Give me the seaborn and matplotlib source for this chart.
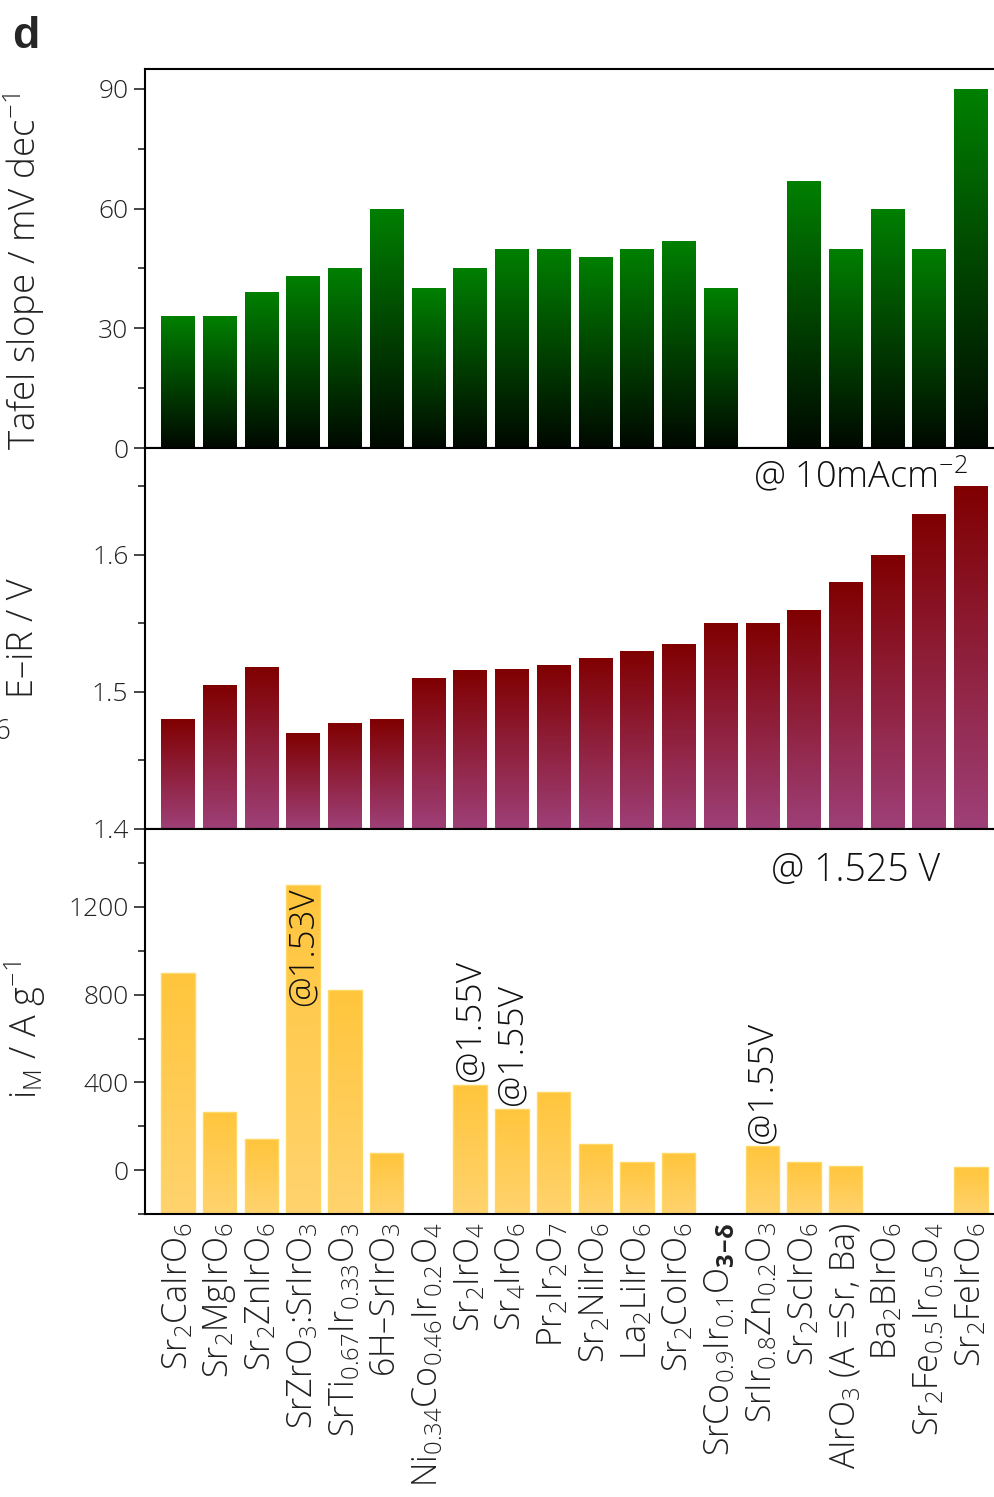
import numpy as np
import pandas as pd
import matplotlib
matplotlib.use("Agg")
import matplotlib.pyplot as plt
import seaborn as sns
from matplotlib.colors import LinearSegmentedColormap
from matplotlib.ticker import MultipleLocator

sns.set_theme(style="ticks")
plt.rcParams["font.family"] = ["Open Sans", "DejaVu Sans"]
plt.rcParams["font.weight"] = "light"
plt.rcParams["axes.labelweight"] = "light"
plt.rcParams["mathtext.fontset"] = "custom"
plt.rcParams["mathtext.rm"] = "Open Sans:light"
plt.rcParams["mathtext.it"] = "Open Sans:italic:light"
plt.rcParams["mathtext.bf"] = "Open Sans:bold"

# catalysts (shared x axis)
catalysts = [
    r"Sr$_2$CaIrO$_6$", r"Sr$_2$MgIrO$_6$", r"Sr$_2$ZnIrO$_6$",
    r"SrZrO$_3$:SrIrO$_3$", r"SrTi$_{0.67}$Ir$_{0.33}$O$_3$", "6H–SrIrO$_3$",
    r"Ni$_{0.34}$Co$_{0.46}$Ir$_{0.2}$O$_4$", r"Sr$_2$IrO$_4$", r"Sr$_4$IrO$_6$",
    r"Pr$_2$Ir$_2$O$_7$", r"Sr$_2$NiIrO$_6$", r"La$_2$LiIrO$_6$", r"Sr$_2$CoIrO$_6$",
    r"SrCo$_{0.9}$Ir$_{0.1}$O$_{\mathbf{3\!-\!\delta}}$", r"SrIr$_{0.8}$Zn$_{0.2}$O$_3$",
    r"Sr$_2$ScIrO$_6$", r"AIrO$_3$ (A =Sr, Ba)", r"Ba$_2$BIrO$_6$",
    r"Sr$_2$Fe$_{0.5}$Ir$_{0.5}$O$_4$", r"Sr$_2$FeIrO$_6$",
]
tafel = [33, 33, 39, 43, 45, 60, 40, 45, 50, 50, 48, 50, 52, 40, np.nan,
         67, 50, 60, 50, 90]
e_ir = [1.480, 1.505, 1.518, 1.470, 1.477, 1.480, 1.510, 1.516, 1.517, 1.520,
        1.525, 1.530, 1.535, 1.550, 1.550, 1.560, 1.580, 1.600, 1.630, 1.650]
i_mass = [900, 265, 140, 1300, 820, 78, np.nan, 390, 280, 355, 120, 37, 77,
          np.nan, 110, 37, 20, np.nan, np.nan, 12]
note_153 = [3]
note_155 = [7, 8, 14]

df = pd.DataFrame({"cat": catalysts, "tafel": tafel, "eir": e_ir, "im": i_mass})

W, H = 995, 1497
fig = plt.figure(figsize=(W / 100, H / 100), dpi=100)
left, width = 145 / W, 848 / W
ax1 = fig.add_axes([left, 1 - 448 / H, width, 379 / H])
ax2 = fig.add_axes([left, 1 - 829 / H, width, 381 / H])
ax3 = fig.add_axes([left, 1 - 1214 / H, width, 385 / H])


def gradient_bars(ax, base, top_c, bot_c, edge=None):
    cmap = LinearSegmentedColormap.from_list("grad", [bot_c, top_c])
    grad = np.linspace(0, 1, 256).reshape(-1, 1)
    for p in ax.patches:
        h = p.get_height()
        if not np.isfinite(h):
            continue
        p.set_y(base)
        p.set_height(h - base)
        x, w = p.get_x(), p.get_width()
        im = ax.imshow(grad, cmap=cmap, origin="lower", aspect="auto",
                       extent=[x, x + w, base, h], zorder=0.9)
        im.set_clip_path(p)
        p.set_facecolor("none")
        if edge:
            p.set_edgecolor(edge)
            p.set_linewidth(1.0)
        else:
            p.set_linewidth(0)


sns.barplot(data=df, x="cat", y="tafel", order=catalysts, ax=ax1, width=0.8)
gradient_bars(ax1, 0, "#008000", "#000800")
sns.barplot(data=df, x="cat", y="eir", order=catalysts, ax=ax2, width=0.8)
gradient_bars(ax2, 1.4, "#800000", "#9e4078")
sns.barplot(data=df, x="cat", y="im", order=catalysts, ax=ax3, width=0.8)
gradient_bars(ax3, -200, "#ffc53c", "#ffd36e", edge="#ffd764")

tick_col = "#222222"
for ax in (ax1, ax2, ax3):
    ax.set_xlim(-0.79, 19.53)
    ax.spines["right"].set_visible(False)
    for s in ("left", "top", "bottom"):
        ax.spines[s].set_linewidth(1.5)
        ax.spines[s].set_color("black")
    ax.tick_params(axis="y", which="major", direction="out", length=8,
                   width=1.2, labelsize=19, labelcolor=tick_col, pad=4)
    ax.tick_params(axis="y", which="minor", direction="out", length=5, width=1.2)
    ax.tick_params(axis="x", length=0)
    ax.set_xlabel("")

ax1.set_ylim(0, 95)
ax1.yaxis.set_major_locator(MultipleLocator(30))
ax1.yaxis.set_minor_locator(MultipleLocator(15))
ax1.set_ylabel(r"Tafel slope / mV dec$^{-1}$", fontsize=26.5, color=tick_col)
ax1.yaxis.set_label_coords(-0.116, 0.465)

ax2.set_ylim(1.4, 1.678)
ax2.yaxis.set_major_locator(MultipleLocator(0.1))
ax2.yaxis.set_minor_locator(MultipleLocator(0.05))
ax2.set_ylabel("E–iR / V", fontsize=26, color=tick_col)
ax2.yaxis.set_label_coords(-0.122, 0.5)

ax3.set_ylim(-200, 1555)
ax3.yaxis.set_major_locator(MultipleLocator(400))
ax3.yaxis.set_minor_locator(MultipleLocator(200))
ax3.set_ylabel(r"i$_{\mathrm{M}}$ / A g$^{-1}$", fontsize=26, color=tick_col)
ax3.yaxis.set_label_coords(-0.114, 0.478)

ax1.set_xticklabels([])
ax2.set_xticklabels([])
ax3.set_xticks(range(len(catalysts)))
ax3.set_xticklabels(catalysts, rotation=90, fontsize=24.5, color=tick_col,
                    va="top", ha="center")
ax3.tick_params(axis="x", pad=6)

ax2.text(0.97, 0.924, r"@ 10mAcm$^{-2}$", transform=ax2.transAxes,
         ha="right", va="center", fontsize=26, color="#111111")
ax3.text(0.9375, 0.891, "@ 1.525 V", transform=ax3.transAxes,
         ha="right", va="center", fontsize=27, color="#111111")
for i in note_153:
    ax3.text(i, i_mass[i] - 10, "@1.53V", rotation=90, ha="center", va="top",
             fontsize=25, color="#111111")
for i in note_155:
    ax3.text(i, i_mass[i] + 15, "@1.55V", rotation=90, ha="center", va="bottom",
             fontsize=25.5, color="#111111")

fig.text(12 / W, 1 - 16 / H, "d", fontsize=32, fontweight="bold",
         family="Liberation Sans", ha="left", va="top")
fig.text(10 / W, 1 - 732 / H, "6", fontsize=20, ha="right", va="center",
         color=tick_col)

fig.savefig("out.png", dpi=100)
